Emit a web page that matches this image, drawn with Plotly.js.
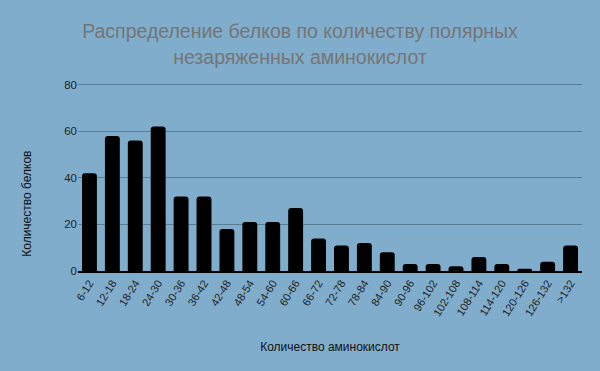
<!DOCTYPE html>
<html><head><meta charset="utf-8">
<script src="https://cdn.plot.ly/plotly-3.0.1.min.js"></script>
<style>body{margin:0;background:#80adcc}</style>
</head><body>
<div id="chart" style="width:600px;height:371px"></div>
<script>
const categories = ["6-12","12-18","18-24","24-30","30-36","36-42","42-48","48-54","54-60","60-66","66-72","72-78","78-84","84-90","90-96","96-102","102-108","108-114","114-120","120-126","126-132",">132"];
const counts = [42,58,56,62,32,32,18,21,21,27,14,11,12,8,3,3,2,6,3,1,4,11];
const titleText = "Распределение белков по количеству полярных<br>незаряженных аминокислот";
const xTitle = "Количество аминокислот";
const yTitle = "Количество белков";
const yTicks = [0,20,40,60,80];

const bg = "#80adcc";
const fam = "Liberation Sans";
Plotly.newPlot("chart", [{
  type: "bar",
  x: categories,
  y: counts,
  marker: {color: "#000000", cornerradius: 3},
  hoverinfo: "none"
}], {
  width: 600, height: 371,
  paper_bgcolor: bg, plot_bgcolor: bg,
  font: {family: fam, color: "#222", size: 11},
  margin: {l: 78, r: 18, t: 80, b: 100},
  bargap: 0.35,
  showlegend: false,
  title: {text: titleText, x: 0.5, xanchor: "center", y: 0.897, yanchor: "top",
          font: {size: 19.5, color: "#757575", family: fam}},
  xaxis: {
    type: "category",
    tickangle: -58,
    showgrid: false,
    showline: true, linecolor: "#000", linewidth: 1.5,
    ticks: "", tickfont: {size: 11, color: "#222", family: fam},
    title: {text: xTitle, font: {size: 12, color: "#111", family: fam}, standoff: 25}
  },
  yaxis: {
    range: [0, 82],
    tickvals: yTicks,
    showgrid: true, gridcolor: "#5a7d96", gridwidth: 1,
    zeroline: false, showline: false,
    ticks: "", ticklen: 0, tickfont: {size: 11.5, color: "#222", family: fam}
  },
  annotations: [{
    text: yTitle, textangle: -90, showarrow: false,
    xref: "paper", yref: "paper", x: -0.1, xanchor: "center",
    y: 0.35, yanchor: "middle",
    font: {size: 12, color: "#111", family: fam}
  }]
}, {displayModeBar: false, staticPlot: true});
</script>
</body></html>
